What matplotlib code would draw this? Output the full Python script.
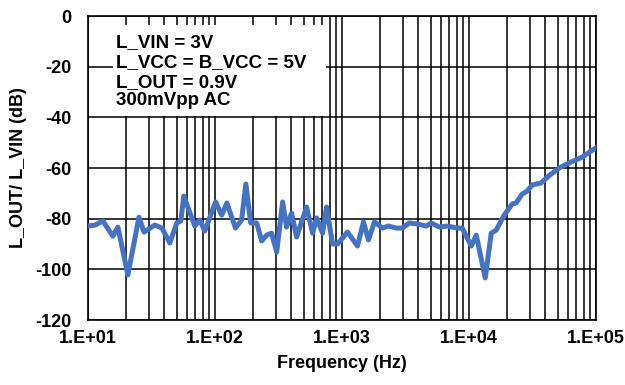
import math
import matplotlib
matplotlib.use("Agg")
import matplotlib.pyplot as plt
from matplotlib.patches import Rectangle
from matplotlib.ticker import LogLocator, FixedLocator, FuncFormatter

plt.rcParams['font.family'] = ['Liberation Sans', 'DejaVu Sans']
plt.rcParams['font.weight'] = 'bold'
plt.rcParams['font.size'] = 13
plt.rcParams['axes.unicode_minus'] = False

freq = [10, 11.4, 13.1, 15.7, 17.2, 20.6, 25.2, 27.6, 33.6, 38.2, 44.1, 50.0,
        53.8, 56.8, 69.3, 75.9, 83.0, 101, 113, 124, 145, 162, 175, 191, 213,
        233, 255, 279, 306, 341, 366, 401, 439, 526, 587, 631, 703, 756, 842,
        922, 1105, 1324, 1476, 1615, 1800, 2080, 2318, 2677, 2985, 3389, 3917,
        4610, 5045, 5834, 6745, 8086, 8853, 10420, 11410, 13430, 14970, 16380,
        18940, 21890, 23510, 26200, 28690, 31420, 36970, 42740, 51200, 61400,
        77700, 100000]
gain = [-82.9, -82.5, -80.9, -86.9, -83.3, -102.2, -79.4, -85.3, -82.5, -83.7,
        -89.6, -81.7, -80.9, -71.1, -82.9, -80.5, -84.9, -73.4, -78.6, -73.8,
        -83.7, -80.5, -66.3, -81.7, -81.7, -88.8, -86.5, -85.7, -93.2, -73.4,
        -83.3, -77.8, -87.2, -75.4, -85.7, -79.7, -85.7, -75.4, -90.0, -90.0,
        -85.3, -90.8, -81.3, -88.4, -81.3, -83.7, -82.9, -83.7, -83.7, -81.7,
        -82.1, -82.9, -81.7, -83.3, -82.9, -83.7, -83.7, -90.8, -86.5, -103.4,
        -85.7, -84.5, -78.6, -74.2, -73.8, -70.3, -69.1, -66.7, -65.9, -63.0,
        -60.0, -58.0, -55.7, -52.0]

notes = ["L_VIN = 3V", "L_VCC = B_VCC = 5V", "L_OUT = 0.9V", "300mVpp AC"]
y_ticks = [0, -20, -40, -60, -80, -100, -120]

fig = plt.figure(figsize=(6.25, 3.85), dpi=100)
ax = fig.add_axes([0.1408, 0.1688, 0.8128, 0.7896])

ax.plot(freq, gain, color='#4472C4', linewidth=3.6, solid_joinstyle='round', zorder=3)

ax.set_xscale('log')
ax.set_xlim(10, 100000)
ax.set_ylim(-120, 0)
ax.yaxis.set_major_locator(FixedLocator(y_ticks))
ax.xaxis.set_major_locator(LogLocator(base=10, numticks=10))
ax.xaxis.set_minor_locator(LogLocator(base=10, subs=range(2, 10), numticks=10))
ax.xaxis.set_minor_formatter(FuncFormatter(lambda v, p: ''))
ax.xaxis.set_major_formatter(FuncFormatter(lambda v, p: '1.E+%02d' % round(math.log10(v))))

ax.grid(True, which='major', color='black', linewidth=1.1)
ax.grid(True, which='minor', axis='x', color='black', linewidth=1.1)
ax.set_axisbelow(True)
ax.tick_params(which='both', length=0)
ax.tick_params(axis='x', pad=7)
ax.tick_params(axis='y', pad=12)
for s in ax.spines.values():
    s.set_color('black')
    s.set_linewidth(1.2)

ax.add_patch(Rectangle((0.049, 0.671), 0.42, 0.30, transform=ax.transAxes,
                       facecolor='white', edgecolor='none', zorder=2))
for txt, yb in zip(notes, [0.898, 0.832, 0.766, 0.707]):
    ax.text(0.055, yb, txt, transform=ax.transAxes, va='baseline', ha='left',
            fontsize=13.5, fontweight='bold', zorder=4)

ax.set_xlabel('Frequency (Hz)', fontweight='bold', labelpad=6)
ax.set_ylabel('L_OUT/ L_VIN (dB)', fontweight='bold', labelpad=6)

fig.savefig('out.png', dpi=100)
